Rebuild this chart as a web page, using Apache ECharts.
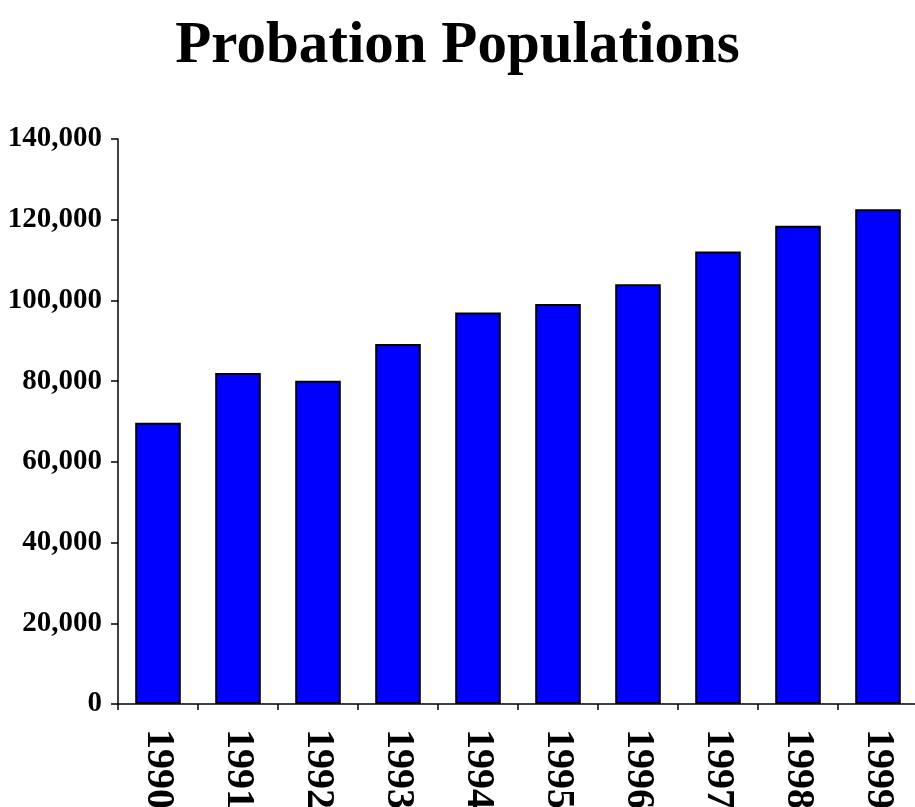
<!DOCTYPE html>
<html>
<head>
<meta charset="utf-8">
<script src="https://cdn.jsdelivr.net/npm/echarts@6/dist/echarts.min.js"></script>
<style>
html,body{margin:0;padding:0;background:#fff;}
#main{width:915px;height:807px;}
</style>
</head>
<body>
<div id="main"></div>
<script>
const years = ['1990','1991','1992','1993','1994','1995','1996','1997','1998','1999'];
const probation = [69700, 82000, 80100, 89200, 97000, 99100, 104000, 112100, 118500, 122600];
const yTicks = [0, 20000, 40000, 60000, 80000, 100000, 120000, 140000];

const chart = echarts.init(document.getElementById('main'), null, {renderer: 'canvas'});
chart.setOption({
  backgroundColor: '#ffffff',
  animation: false,
  title: {
    text: 'Probation Populations',
    left: 'center',
    top: 12,
    textStyle: {fontFamily: 'Liberation Serif', fontWeight: 'bold', fontSize: 59, color: '#000'}
  },
  grid: {left: 118, top: 139, width: 800, bottom: 103, containLabel: false, outerBoundsMode: 'none'},
  xAxis: {
    type: 'category',
    data: years,
    axisLine: {lineStyle: {color: '#000', width: 1.5}},
    axisTick: {show: true, length: 6, lineStyle: {color: '#000', width: 1.5}},
    axisLabel: {
      rotate: -90, margin: 25, color: '#000',
      fontFamily: 'Liberation Serif', fontWeight: 'bold', fontSize: 40
    }
  },
  yAxis: {
    type: 'value',
    min: yTicks[0],
    max: yTicks[yTicks.length - 1],
    interval: yTicks[1] - yTicks[0],
    splitLine: {show: false},
    axisLine: {show: true, lineStyle: {color: '#000', width: 1.5}},
    axisTick: {show: true, length: 7, lineStyle: {color: '#000', width: 1.5}},
    axisLabel: {
      margin: 16, color: '#000',
      fontFamily: 'Liberation Serif', fontWeight: 'bold', fontSize: 29,
      formatter: v => v.toLocaleString('en-US')
    }
  },
  series: [{
    type: 'bar',
    data: probation,
    barWidth: '57%',
    itemStyle: {color: '#0000ff', borderColor: '#000', borderWidth: 2}
  }]
});
</script>
</body>
</html>
